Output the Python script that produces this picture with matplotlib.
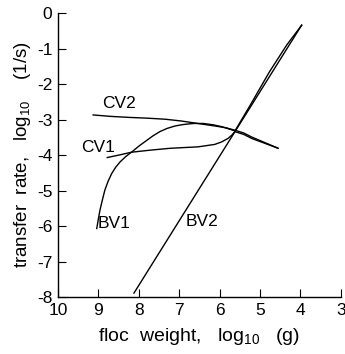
import matplotlib

matplotlib.use("Agg")

import matplotlib.pyplot as plt

plt.rcParams["font.family"] = ["Liberation Sans", "DejaVu Sans"]
plt.rcParams["mathtext.fontset"] = "custom"
plt.rcParams["mathtext.rm"] = "Liberation Sans"

# curves: x = log10 floc weight (g), y = log10 transfer rate (1/s)
cv2_x = [9.13, 8.70, 8.22, 7.80, 7.35, 6.95, 6.54, 6.12, 5.85, 5.62, 5.40, 5.21, 4.88, 4.55]
cv2_y = [-2.87, -2.91, -2.94, -2.96, -2.99, -3.04, -3.11, -3.18, -3.23, -3.30, -3.38, -3.49, -3.65, -3.81]

cv1_x = [8.78, 8.45, 8.18, 7.70, 7.23, 6.90, 6.54, 6.12, 5.95, 5.79, 5.70, 5.62, 5.40, 5.21, 4.88, 4.57]
cv1_y = [-4.07, -3.99, -3.92, -3.86, -3.81, -3.79, -3.77, -3.70, -3.63, -3.53, -3.44, -3.34, -3.42, -3.53, -3.67, -3.80]

bv1_x = [9.04, 9.00, 8.96, 8.90, 8.84, 8.76, 8.67, 8.57, 8.46, 8.32, 8.17, 8.00, 7.82, 7.65, 7.48,
         7.30, 7.10, 6.90, 6.65, 6.40, 6.15, 5.95, 5.78, 5.62, 5.24, 4.77, 4.34, 3.97]
bv1_y = [-6.07, -5.80, -5.55, -5.26, -4.99, -4.74, -4.52, -4.34, -4.19, -4.04, -3.91, -3.75, -3.60, -3.46, -3.34,
         -3.25, -3.18, -3.14, -3.11, -3.11, -3.15, -3.20, -3.26, -3.32, -2.59, -1.66, -0.90, -0.34]

bv2_x = [8.12, 5.62, 3.97]
bv2_y = [-7.89, -3.34, -0.34]

labels = ["CV2", "CV1", "BV1", "BV2"]
label_x = [8.49, 9.0, 8.62, 6.44]
label_y = [-2.54, -3.78, -5.92, -5.87]

x_ticks = [10, 9, 8, 7, 6, 5, 4, 3]
y_ticks = [0, -1, -2, -3, -4, -5, -6, -7, -8]

fig = plt.figure(figsize=(3.45, 3.54), dpi=100)
ax = fig.add_axes([0.168, 0.161, 0.820, 0.802])

for xs, ys in [(cv2_x, cv2_y), (cv1_x, cv1_y), (bv1_x, bv1_y), (bv2_x, bv2_y)]:
    ax.plot(xs, ys, color="black", lw=1.0, solid_joinstyle="round")

for text, lx, ly in zip(labels, label_x, label_y):
    ax.text(lx, ly, text, fontsize=12.5, ha="center", va="center")

ax.set_xlim(10, 3)
ax.set_ylim(-8, 0)
ax.set_xticks(x_ticks)
ax.set_yticks(y_ticks)
ax.set_xticklabels([str(v) for v in x_ticks], fontsize=12.5)
ax.set_yticklabels([str(v) for v in y_ticks], fontsize=12.5)
ax.tick_params(direction="in", length=6, width=0.8, pad=4)
ax.spines["top"].set_visible(False)
ax.spines["right"].set_visible(False)
ax.spines["left"].set_linewidth(1.0)
ax.spines["bottom"].set_linewidth(1.0)

ax.set_xlabel(r"floc  weight,   log$_{10}$   (g)", fontsize=14, labelpad=6)
ax.set_ylabel(r"transfer  rate,   log$_{10}$    (1/s)", fontsize=13.5, labelpad=3)

fig.savefig("out.png", dpi=100)
plt.close(fig)
